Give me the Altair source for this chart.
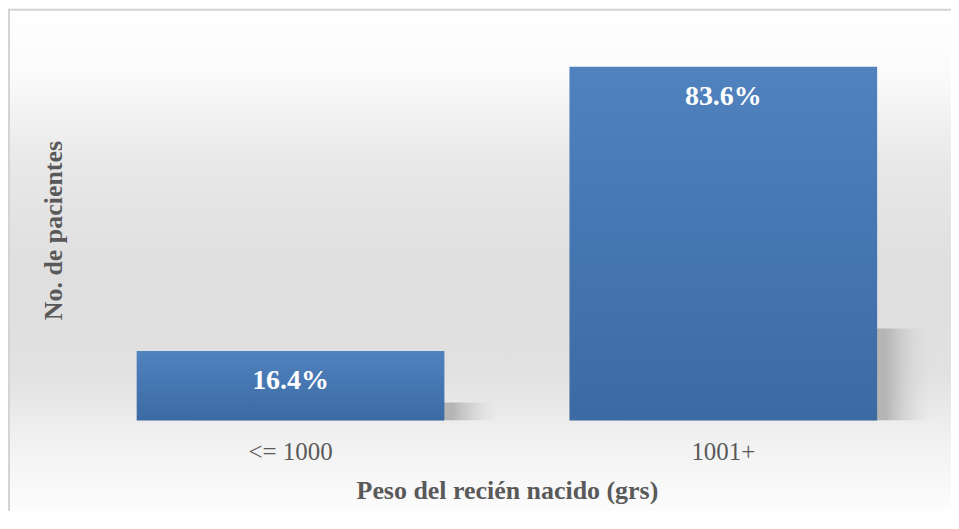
import altair as alt
import pandas as pd

categories = ["<= 1000", "1001+"]
values = [16.4, 83.6]
labels = ["16.4%", "83.6%"]

df = pd.DataFrame({"cat": categories, "val": values, "label": labels})
bg = pd.DataFrame({"a": [0]})

W, H = 867, 382
SERIF = "Liberation Serif"
GRAY = "#595959"

yaxis = alt.Axis(
    title="No. de pacientes", labels=False, ticks=False, domain=False, grid=False,
    titlePadding=8, titleFont=SERIF, titleFontSize=26, titleFontWeight="bold",
    titleColor=GRAY, zindex=2,
)
xenc = alt.X(
    "cat:N", sort=categories,
    scale=alt.Scale(paddingInner=0.289, paddingOuter=0.143),
    axis=alt.Axis(
        title="Peso del recién nacido (grs)", labelAngle=0, ticks=False, domain=False,
        labelPadding=19, labelFont=SERIF, labelFontSize=25, labelColor=GRAY,
        titleFont=SERIF, titleFontSize=26, titleFontWeight="bold", titleColor=GRAY,
        titleY=70, titleBaseline="middle", zindex=2,
    ),
)
yenc = alt.Y("val:Q", scale=alt.Scale(domain=[0, 90]), axis=yaxis)

background = alt.Chart(bg).mark_rect(
    fill=alt.Gradient(
        gradient="linear", x1=0, x2=0, y1=0, y2=1,
        stops=[
            alt.GradientStop(color="#ffffff", offset=0),
            alt.GradientStop(color="#fbfbfb", offset=0.12),
            alt.GradientStop(color="#e8e8e8", offset=0.3),
            alt.GradientStop(color="#dfdfdf", offset=0.5),
            alt.GradientStop(color="#e1e1e1", offset=0.7),
            alt.GradientStop(color="#f1f1f1", offset=0.83),
            alt.GradientStop(color="#ffffff", offset=1),
        ],
    ),
).encode(
    x=alt.value(-67), x2=alt.value(W + 60),
    y=alt.value(-31), y2=alt.value(H + 108),
)

left_border = alt.Chart(bg).mark_rule(color="#d4d4d4", strokeWidth=2).encode(
    x=alt.value(-66), y=alt.value(-31), y2=alt.value(H + 108),
)
top_border = alt.Chart(bg).mark_rule(color="#d4d4d4", strokeWidth=2).encode(
    x=alt.value(-67), x2=alt.value(W + 60), y=alt.value(-30),
)

shadow = alt.Chart(df).transform_calculate(
    sh="datum.val * 0.26"
).mark_bar(
    xOffset=55, clip=True,
    fill=alt.Gradient(
        gradient="linear", x1=0, x2=1, y1=0, y2=0,
        stops=[
            alt.GradientStop(color="#b5b5b5", offset=0),
            alt.GradientStop(color="#b5b5b5", offset=0.85),
            alt.GradientStop(color="rgba(220,220,220,0)", offset=1),
        ],
    ),
).encode(x=xenc, y=alt.Y("sh:Q", scale=alt.Scale(domain=[0, 90]), axis=yaxis))

bars = alt.Chart(df).mark_bar(
    fill=alt.Gradient(
        gradient="linear", x1=0, x2=0, y1=0, y2=1,
        stops=[
            alt.GradientStop(color="#5082be", offset=0),
            alt.GradientStop(color="#3c6aa3", offset=1),
        ],
    ),
).encode(x=xenc, y=yenc)

text = alt.Chart(df).mark_text(
    dy=30, baseline="middle", color="white", font=SERIF, fontSize=28, fontWeight="bold",
).encode(x=xenc, y=yenc, text="label:N")

chart = alt.layer(background, left_border, top_border, shadow, bars, text).properties(
    width=W, height=H,
    padding={"left": 67, "top": 31, "right": 12, "bottom": 90},
    autosize=alt.AutoSizeParams(type="none"),
    background="white",
).configure_view(stroke=None)

chart.save("out.html", embed_options={"renderer": "svg", "actions": False})
